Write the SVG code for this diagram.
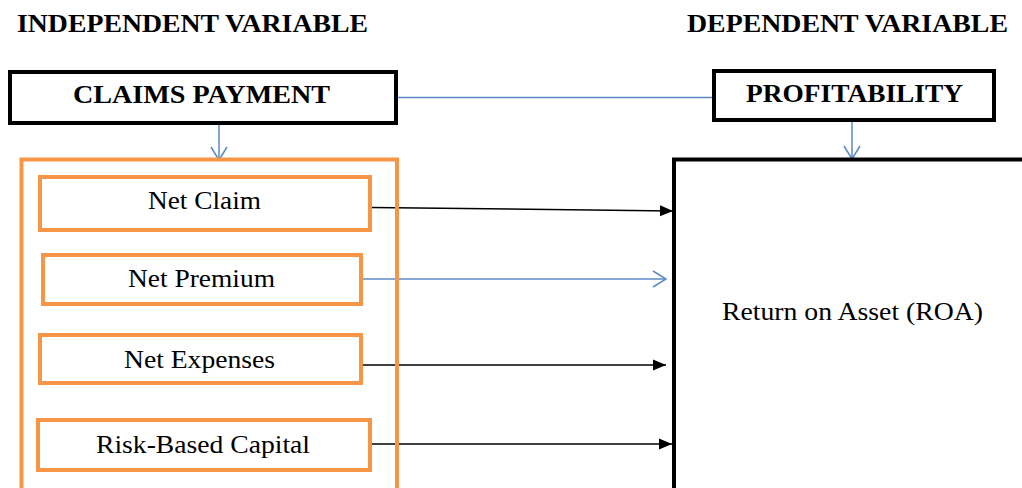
<svg xmlns="http://www.w3.org/2000/svg" width="1022" height="488" viewBox="0 0 1022 488">
<defs>
<style>
text{font-family:"Liberation Serif","Times New Roman",serif;fill:#000}
.hd{font-size:26px;font-weight:bold}
.lb{font-size:25px}
.blk{fill:#fff;stroke:#000;stroke-width:4}
.org{fill:#fff;stroke:#f79646;stroke-width:4}
.frame{fill:none}
.bl{stroke:#5b8ac6;stroke-width:1.5;fill:none}
.bk{stroke:#000;stroke-width:1.5;fill:none}
</style>
<marker id="open" markerWidth="16" markerHeight="18" refX="14" refY="9" orient="auto" markerUnits="userSpaceOnUse">
<path d="M1,1 L14,9 L1,17" fill="none" stroke="#5b8ac6" stroke-width="1.5"/>
</marker>
<marker id="fill" markerWidth="14" markerHeight="12" refX="13" refY="6" orient="auto" markerUnits="userSpaceOnUse">
<path d="M0,0.5 L13,6 L0,11.5 Z" fill="#000"/>
</marker>
</defs>
<rect width="1022" height="488" fill="#fff"/>
<text class="hd" x="17" y="32" textLength="351" lengthAdjust="spacingAndGlyphs">INDEPENDENT VARIABLE</text>
<text class="hd" x="687" y="32" textLength="321" lengthAdjust="spacingAndGlyphs">DEPENDENT VARIABLE</text>

<g id="connectors">
<line class="bl" x1="398" y1="97.5" x2="712" y2="97.5"/>
<line class="bl" x1="219" y1="125" x2="219" y2="160" marker-end="url(#open)"/>
<line class="bl" x1="852" y1="122" x2="852" y2="159" marker-end="url(#open)"/>
<line class="bk" x1="372" y1="207.5" x2="673" y2="211" marker-end="url(#fill)"/>
<line class="bl" x1="363" y1="279" x2="666" y2="279" marker-end="url(#open)"/>
<line class="bk" x1="363" y1="365" x2="666" y2="365" marker-end="url(#fill)"/>
<line class="bk" x1="372" y1="444" x2="672" y2="444" marker-end="url(#fill)"/>
</g>

<g id="claims-payment">
<rect class="blk" x="10" y="72" width="386" height="51"/>
<text class="hd" x="73" y="103" textLength="257" lengthAdjust="spacingAndGlyphs">CLAIMS PAYMENT</text>
</g>
<g id="profitability">
<rect class="blk" x="714" y="71" width="280" height="49"/>
<text class="hd" x="746" y="102" textLength="217" lengthAdjust="spacingAndGlyphs">PROFITABILITY</text>
</g>
<g id="indicators">
<rect class="org frame" x="21.5" y="159.5" width="375.5" height="340"/>
</g>
<g id="net-claim">
<rect class="org" x="40" y="177" width="330" height="53"/>
<text class="lb" x="148" y="209" textLength="113" lengthAdjust="spacingAndGlyphs">Net Claim</text>
</g>
<g id="net-premium">
<rect class="org" x="43" y="255" width="318" height="49"/>
<text class="lb" x="128" y="287" textLength="147" lengthAdjust="spacingAndGlyphs">Net Premium</text>
</g>
<g id="net-expenses">
<rect class="org" x="40" y="335" width="321" height="48"/>
<text class="lb" x="124" y="368" textLength="151" lengthAdjust="spacingAndGlyphs">Net Expenses</text>
</g>
<g id="risk-based-capital">
<rect class="org" x="38" y="420" width="332" height="50"/>
<text class="lb" x="96" y="453" textLength="214" lengthAdjust="spacingAndGlyphs">Risk-Based Capital</text>
</g>
<g id="roa">
<rect class="blk frame" x="674" y="159.5" width="400" height="360"/>
<text class="lb" x="722" y="320" textLength="261" lengthAdjust="spacingAndGlyphs">Return on Asset (ROA)</text>
</g>
</svg>
